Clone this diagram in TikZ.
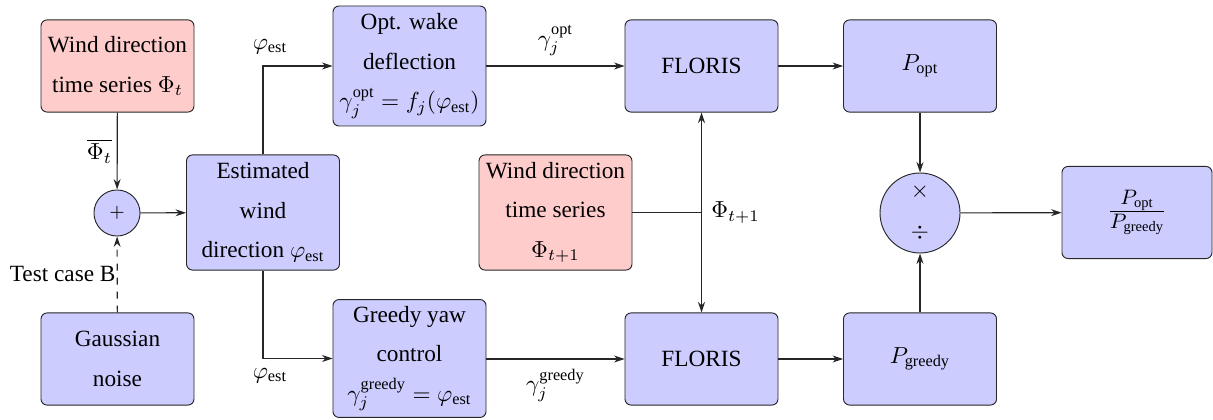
\documentclass[tikz,border=0pt]{standalone}
\usepackage{fontspec}
\setmainfont{Liberation Serif}
\usetikzlibrary{arrows.meta}
\definecolor{pinkfill}{RGB}{255,204,204}
\definecolor{bluefill}{RGB}{204,204,255}
\tikzset{
  blk/.style={draw=black!85, rounded corners=2.6pt, fill=bluefill, align=center,
    minimum width=65.8pt, minimum height=39.6pt, inner sep=1pt,
    font=\fontsize{10}{17}\selectfont},
  src/.style={blk, fill=pinkfill},
  sumnode/.style={draw=black!85, circle, fill=bluefill, inner sep=0pt},
  arr/.style={-{Stealth[length=4.5pt,width=3pt]}, draw=black!85, line width=0.5pt},
  ln/.style={draw=black!85, line width=0.5pt},
  lbl/.style={font=\fontsize{10}{12}\selectfont, inner sep=2pt}
}
\begin{document}
\begin{tikzpicture}[x=0.43pt,y=-0.43pt]
\useasboundingbox (0,0) rectangle (1213,420);
\node[src] (wind1) at (117.5,66) {Wind direction\\ time series $\Phi_t$};
\node[sumnode, minimum size=19.8pt, font=\fontsize{8}{9}\selectfont] (plus) at (117,213) {$+$};
\node[blk] (gauss) at (117.5,359) {Gaussian\\ noise};
\node[blk, minimum height=49.5pt] (est) at (263,212.5) {Estimated\\ wind\\ direction $\varphi_{\mathrm{est}}$};
\node[blk, minimum height=51.6pt] (opt) at (409.5,66) {Opt. wake\\ deflection\\ $\gamma_j^{\mathrm{opt}} = f_j(\varphi_{\mathrm{est}})$};
\node[blk, minimum height=50.7pt] (greedy) at (409.5,358.5) {Greedy yaw\\ control\\ $\gamma_j^{\mathrm{greedy}} = \varphi_{\mathrm{est}}$};
\node[blk] (flo1) at (701.5,66) {FLORIS};
\node[blk] (flo2) at (701.5,359) {FLORIS};
\node[src, minimum height=49.5pt] (wind2) at (555.5,212.5) {Wind direction\\ time series\\ $\Phi_{t+1}$};
\node[blk] (popt) at (920,66) {$P_{\mathrm{opt}}$};
\node[blk] (pgreedy) at (920,359) {$P_{\mathrm{greedy}}$};
\node[sumnode, minimum size=34.4pt] (mult) at (920,213) {};
\node[lbl] (times) at (920,192) {$\times$};
\node[lbl] (divs) at (920,233) {$\div$};
\node[blk, minimum width=64.5pt] (out) at (1137,212.5) {\fontsize{12.5}{15}\selectfont$\frac{P_{\mathrm{opt}}}{P_{\mathrm{greedy}}}$};
\coordinate (j) at (701.5,212.5);

\draw[arr] (wind1) -- node[lbl, left] {$\overline{\Phi_t}$} (plus);
\draw[arr, dashed] (gauss) -- node[lbl, left, inner sep=0.5pt] {Test case B} (plus);
\draw[arr] (plus) -- (est);
\draw[arr] (est.north) |- node[pos=0.5, lbl, above, xshift=3pt, yshift=3pt] {$\varphi_{\mathrm{est}}$} (opt.west);
\draw[arr] (est.south) |- node[pos=0.5, lbl, below, xshift=3pt, yshift=-2pt] {$\varphi_{\mathrm{est}}$} (greedy.west);
\draw[arr] (opt) -- node[lbl, above, yshift=2pt] {$\gamma_j^{\mathrm{opt}}$} (flo1);
\draw[arr] (greedy.east |- flo2) -- node[lbl, below, yshift=-2pt] {$\gamma_j^{\mathrm{greedy}}$} (flo2);
\draw[arr] (flo1) -- (popt);
\draw[arr] (flo2) -- (pgreedy);
\draw[ln] (wind2.east) -- (j) node[lbl, right, xshift=2pt] {$\Phi_{t+1}$};
\draw[arr] (j) -- (flo1.south);
\draw[arr] (j) -- (flo2.north);
\draw[arr] (popt) -- (mult);
\draw[arr] (pgreedy) -- (mult);
\draw[arr] (mult) -- (out);
\end{tikzpicture}
\end{document}
